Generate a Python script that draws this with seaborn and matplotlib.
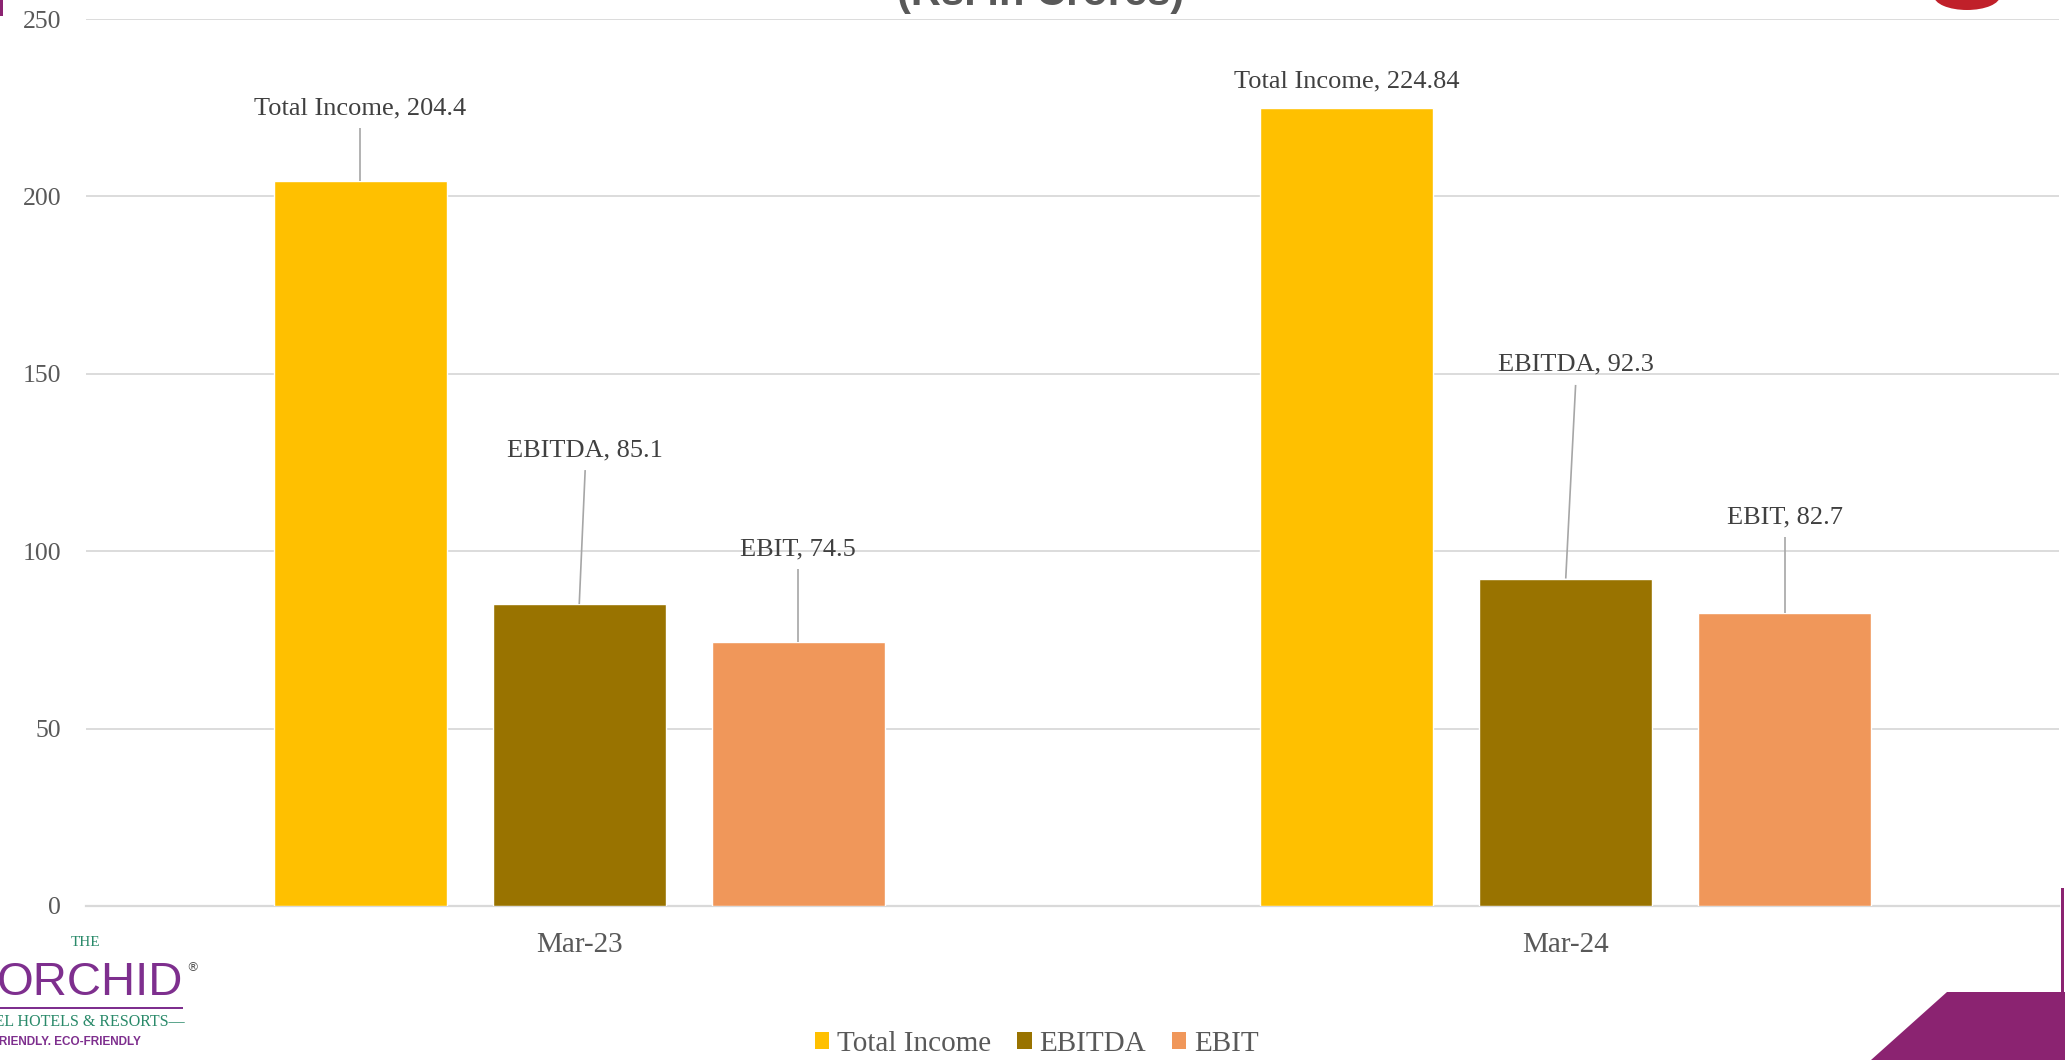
import matplotlib
matplotlib.use("Agg")
import matplotlib.pyplot as plt
import matplotlib.patches as mpatches
from matplotlib.patches import Patch
import seaborn as sns
import pandas as pd

# ---- data ----
periods = ["Mar-23", "Mar-24"]
metrics = ["Total Income", "EBITDA", "EBIT"]
total_income = [204.4, 224.84]
ebitda = [85.1, 92.3]
ebit = [74.5, 82.7]
yticks = [0, 50, 100, 150, 200, 250]
colors = ["#FFC000", "#997300", "#F0975A"]

rows = []
for m, vals in zip(metrics, [total_income, ebitda, ebit]):
    for p, v in zip(periods, vals):
        rows.append({"Period": p, "Metric": m, "Value": v})
df = pd.DataFrame(rows)

sns.set_theme(style="white")
plt.rcParams["font.family"] = ["Liberation Serif", "DejaVu Serif"]

W, H = 2065, 1060
fig = plt.figure(figsize=(W / 100, H / 100), dpi=100)
ax = fig.add_axes([86 / W, 1 - 906 / H, (2059 - 86) / W, (906 - 19) / H])

sns.barplot(data=df, x="Period", y="Value", hue="Metric", hue_order=metrics,
            order=periods, palette=colors, width=0.666, gap=0.21,
            saturation=1, ax=ax, legend=False, zorder=3)

ax.set_xlim(-0.5, 1.5)
ax.set_ylim(0, 250)
ax.set_yticks(yticks)
ax.set_xlabel("")
ax.set_ylabel("")
ax.set_axisbelow(True)
ax.yaxis.grid(True, color="#d9d9d9", lw=1.3)
for s in ["top", "right", "left"]:
    ax.spines[s].set_visible(False)
ax.spines["bottom"].set_color("#d9d9d9")
ax.spines["bottom"].set_linewidth(1.6)
ax.tick_params(axis="y", length=0, pad=18, labelsize=18.5, labelcolor="#595959")
ax.tick_params(axis="x", which="major", length=0, pad=19, labelsize=21, labelcolor="#595959")
ax.set_xticks([-0.5, 0.5, 1.5], minor=True)
ax.tick_params(axis="x", which="minor", length=6, width=1.6, color="#d9d9d9", direction="out")

# data labels with leader lines (label placement is layout only)
label_dy = [[20.5, 7.5], [43.4, 60.2], [26.1, 26.9]]
label_dx = [[0.0, 0.0], [0.006, 0.010], [0.0, 0.0]]
gap_data = 20 / 887 * 250
for mi, cont in enumerate(ax.containers):
    for pi, bar in enumerate(cont.patches):
        xc = bar.get_x() + bar.get_width() / 2
        h = bar.get_height()
        lx = xc + label_dx[mi][pi]
        ly = h + label_dy[mi][pi]
        ax.text(lx, ly, f"{metrics[mi]}, {h:g}", ha="center", va="center",
                fontsize=19, color="#404040", zorder=5)
        top = ly - gap_data
        if top - h > 3:
            ax.plot([lx, xc], [top, h], color="#a6a6a6", lw=1.2, zorder=4,
                    solid_capstyle="butt")

# legend
handles = [Patch(facecolor=c, edgecolor="none") for c in colors]
fig.legend(handles, metrics, loc="center", bbox_to_anchor=(0.502, 0.015), ncol=3,
           frameon=False, fontsize=21, handlelength=0.5, handleheight=0.5,
           handletextpad=0.25, columnspacing=0.9, labelcolor="#595959")

# title (cut off at the top in the original)
fig.text(0.504, 1 - 5 / H, "(Rs. in Crores)", ha="center", va="baseline",
         fontsize=30, fontweight="bold", color="#595959",
         family=["Liberation Sans", "DejaVu Sans"])

# decorations
purple = "#8B2371"
fig.add_artist(mpatches.Rectangle((0, 1 - 16 / H), 3 / W, 16 / H, transform=fig.transFigure,
                                  color=purple, lw=0))
fig.add_artist(mpatches.Rectangle((2061 / W, 1 - 992 / H), 3 / W, (992 - 888) / H,
                                  transform=fig.transFigure, color=purple, lw=0))
fig.add_artist(mpatches.Polygon([(1947 / W, 1 - 992 / H), (1.0, 1 - 992 / H), (1.0, 0.0),
                                 (1871 / W, 0.0)], closed=True, transform=fig.transFigure,
                                color=purple, lw=0))
fig.add_artist(mpatches.Ellipse((1967 / W, 1 + 4 / H), 66 / W, 28 / H,
                                transform=fig.transFigure, color="#C0202A", lw=0))

# logo
green = "#2A8A6A"
lp = "#7E2F8E"
fig.text(86 / W, 1 - 943 / H, "THE", ha="center", va="center", fontsize=11,
         color=green, family=["Liberation Serif"])
fig.text(183 / W, 1 - 995 / H, "ORCHID", ha="right", va="baseline", fontsize=34,
         color=lp, family=["Liberation Sans", "DejaVu Sans"])
fig.text(186 / W, 1 - 968 / H, "®", ha="left", va="center", fontsize=9, color="#555555",
         family=["DejaVu Sans"])
fig.add_artist(mpatches.Rectangle((0, 1 - 1009 / H), 183 / W, 2 / H, transform=fig.transFigure,
                                  color=lp, lw=0))
fig.text(185 / W, 1 - 1022 / H, "ECOTEL HOTELS & RESORTS\u2014", ha="right", va="center",
         fontsize=11.5, color=green, family=["Liberation Serif"])
fig.text(141 / W, 1 - 1042 / H, "GUEST-FRIENDLY. ECO-FRIENDLY", ha="right", va="center",
         fontsize=8.5, fontweight="bold", color=lp, family=["Liberation Sans", "DejaVu Sans"])

fig.savefig("out.png", dpi=100, facecolor="white")
